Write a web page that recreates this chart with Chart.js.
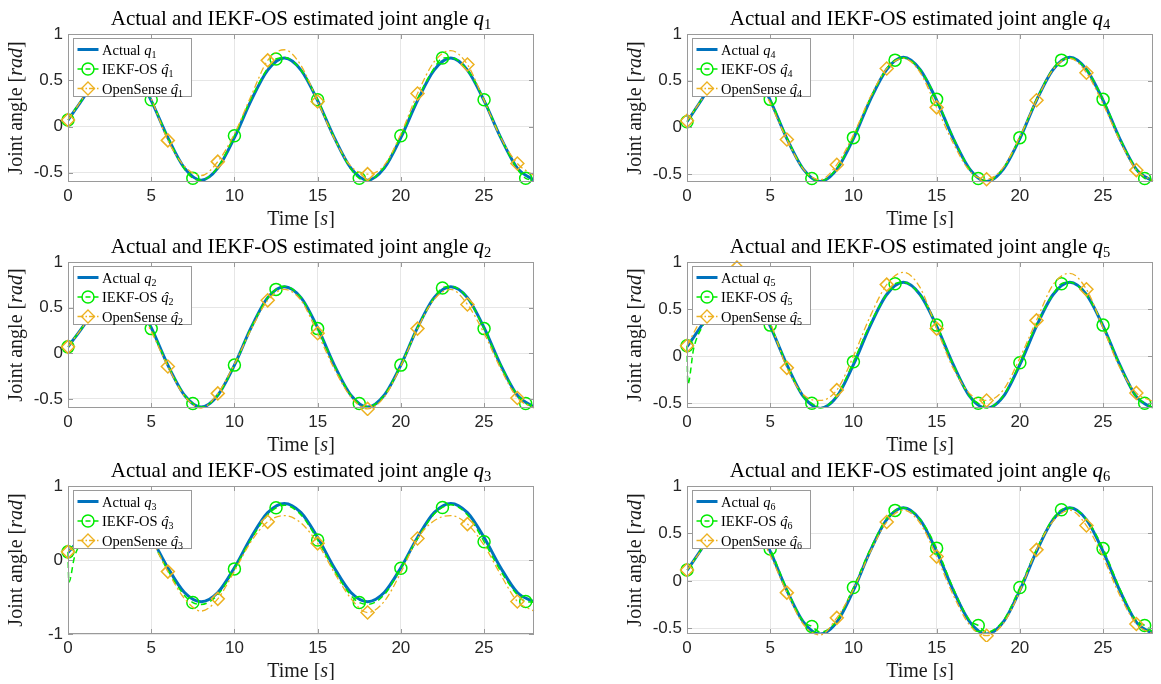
<!DOCTYPE html>
<html>
<head>
<meta charset="utf-8">
<script src="https://cdn.jsdelivr.net/npm/chart.js@4/dist/chart.umd.min.js"></script>
<style>
  body { margin: 0; background: #fff; width: 1161px; height: 684px; position: relative; overflow: hidden; }
  canvas { position: absolute; }
</style>
</head>
<body>
<script>
// time samples (s)
const timeA = [0,1,2,3,4,5,6,7,8,9,10,11,12,13,14,15,16,17,18,19,20,21,22,23,24,25,26,27,28];
const timeE = [0,0.05,0.4,1,2,2.5,3,4,5,6,7,7.5,8,9,10,11,12,12.5,13,14,15,16,17,17.5,18,19,20,21,22,22.5,23,24,25,26,27,27.5,28];

const xTicks = [0,5,10,15,20,25];
const yTicksStd = [-0.5,0,0.5,1];
const yTicksWide = [-1,0,1];

// joint angles (rad)
const actualQ1 = [0.07,0.33,0.63,0.74,0.61,0.28,-0.12,-0.45,-0.58,-0.45,-0.12,0.28,0.61,0.74,0.61,0.28,-0.12,-0.45,-0.58,-0.45,-0.12,0.28,0.61,0.74,0.61,0.28,-0.12,-0.45,-0.58];
const iekfQ1 = [0.07,0.085,0.18,0.33,0.63,0.72,0.745,0.61,0.29,-0.12,-0.46,-0.56,-0.58,-0.44,-0.10,0.30,0.63,0.73,0.745,0.61,0.29,-0.12,-0.46,-0.56,-0.58,-0.44,-0.10,0.30,0.63,0.74,0.745,0.61,0.29,-0.12,-0.46,-0.56,-0.58];
const openSenseQ1 = [0.07,0.34,0.66,0.80,0.66,0.30,-0.15,-0.43,-0.53,-0.38,-0.08,0.33,0.715,0.83,0.66,0.27,-0.13,-0.43,-0.515,-0.42,-0.08,0.356,0.70,0.82,0.67,0.28,-0.12,-0.40,-0.53];

const actualQ2 = [0.07,0.32,0.62,0.73,0.61,0.28,-0.13,-0.46,-0.59,-0.46,-0.13,0.28,0.61,0.73,0.61,0.28,-0.13,-0.46,-0.59,-0.46,-0.13,0.28,0.61,0.73,0.61,0.28,-0.13,-0.46,-0.59];
const iekfQ2 = [0.07,0.085,0.17,0.32,0.62,0.71,0.735,0.61,0.27,-0.13,-0.46,-0.55,-0.59,-0.46,-0.13,0.28,0.61,0.70,0.735,0.61,0.27,-0.13,-0.46,-0.55,-0.59,-0.46,-0.13,0.28,0.61,0.715,0.735,0.61,0.27,-0.13,-0.46,-0.55,-0.59];
const openSenseQ2 = [0.07,0.32,0.60,0.71,0.57,0.24,-0.145,-0.47,-0.60,-0.44,-0.12,0.26,0.58,0.70,0.58,0.22,-0.17,-0.48,-0.61,-0.48,-0.14,0.27,0.59,0.70,0.535,0.22,-0.17,-0.49,-0.60];

const actualQ3 = [0.10,0.36,0.66,0.765,0.64,0.305,-0.105,-0.44,-0.565,-0.44,-0.105,0.305,0.64,0.765,0.64,0.305,-0.105,-0.44,-0.565,-0.44,-0.105,0.305,0.64,0.765,0.64,0.305,-0.105,-0.44,-0.565];
const iekfQ3 = [0.11,-0.30,0.05,0.30,0.60,0.70,0.74,0.61,0.27,-0.14,-0.48,-0.575,-0.60,-0.47,-0.12,0.28,0.61,0.705,0.74,0.61,0.27,-0.14,-0.48,-0.575,-0.60,-0.47,-0.112,0.29,0.62,0.71,0.745,0.61,0.247,-0.15,-0.47,-0.56,-0.57];
const openSenseQ3 = [0.11,0.33,0.52,0.60,0.50,0.27,-0.157,-0.52,-0.69,-0.525,-0.15,0.25,0.516,0.60,0.50,0.225,-0.17,-0.52,-0.71,-0.56,-0.17,0.29,0.53,0.60,0.485,0.20,-0.20,-0.56,-0.69];

const actualQ4 = [0.06,0.33,0.63,0.75,0.62,0.29,-0.12,-0.45,-0.58,-0.45,-0.12,0.29,0.62,0.75,0.62,0.29,-0.12,-0.45,-0.58,-0.45,-0.12,0.29,0.62,0.75,0.62,0.29,-0.12,-0.45,-0.58];
const iekfQ4 = [0.06,0.075,0.17,0.33,0.63,0.72,0.75,0.62,0.30,-0.11,-0.45,-0.547,-0.575,-0.44,-0.11,0.30,0.63,0.72,0.745,0.62,0.30,-0.11,-0.45,-0.547,-0.575,-0.44,-0.11,0.30,0.63,0.72,0.745,0.62,0.30,-0.11,-0.45,-0.547,-0.575];
const openSenseQ4 = [0.07,0.33,0.62,0.74,0.60,0.26,-0.13,-0.45,-0.56,-0.40,-0.08,0.32,0.63,0.74,0.59,0.214,-0.17,-0.47,-0.555,-0.43,-0.10,0.29,0.62,0.74,0.585,0.25,-0.14,-0.458,-0.57];

const actualQ5 = [0.10,0.36,0.67,0.785,0.655,0.32,-0.09,-0.43,-0.555,-0.43,-0.09,0.32,0.655,0.785,0.655,0.32,-0.09,-0.43,-0.555,-0.43,-0.09,0.32,0.655,0.785,0.655,0.32,-0.09,-0.43,-0.555];
const iekfQ5 = [0.11,-0.30,0.08,0.34,0.66,0.75,0.78,0.65,0.33,-0.09,-0.43,-0.50,-0.55,-0.42,-0.06,0.34,0.66,0.77,0.785,0.65,0.33,-0.09,-0.43,-0.50,-0.55,-0.42,-0.07,0.34,0.66,0.77,0.785,0.65,0.33,-0.09,-0.43,-0.50,-0.55];
const openSenseQ5 = [0.11,0.45,0.80,0.94,0.75,0.36,-0.124,-0.41,-0.47,-0.36,0.00,0.42,0.76,0.89,0.73,0.293,-0.13,-0.40,-0.47,-0.36,-0.02,0.38,0.76,0.88,0.71,0.30,-0.12,-0.39,-0.48];

const actualQ6 = [0.11,0.37,0.66,0.77,0.645,0.31,-0.10,-0.435,-0.56,-0.435,-0.10,0.31,0.645,0.77,0.645,0.31,-0.10,-0.435,-0.56,-0.435,-0.10,0.31,0.645,0.77,0.645,0.31,-0.10,-0.435,-0.56];
const iekfQ6 = [0.114,0.125,0.21,0.37,0.66,0.74,0.77,0.65,0.335,-0.09,-0.43,-0.48,-0.54,-0.42,-0.07,0.33,0.66,0.743,0.77,0.65,0.345,-0.08,-0.42,-0.47,-0.54,-0.42,-0.07,0.33,0.66,0.75,0.77,0.65,0.34,-0.08,-0.42,-0.47,-0.54];
const openSenseQ6 = [0.114,0.36,0.63,0.74,0.60,0.27,-0.124,-0.46,-0.57,-0.39,-0.09,0.30,0.62,0.745,0.61,0.256,-0.15,-0.47,-0.578,-0.45,-0.11,0.327,0.63,0.745,0.583,0.25,-0.15,-0.455,-0.56];

const BLUE = '#0072BD';
const GREEN = 'rgb(0,235,0)';
const ORANGE = '#EDB120';
const GRID = '#e6e6e6';
const EDGE = '#9a9a9a';
const SERIF = '"Liberation Serif", "Times New Roman", serif';
const SANS = '"Liberation Sans", Arial, Helvetica, sans-serif';
const f = (size, italic) => (italic ? 'italic ' : '') + size + 'px ' + SERIF;

const CANVAS_W = 542, CANVAS_H = 228, PAD_TOP = 34;

const panels = [
  { joint: 1, actual: actualQ1, iekf: iekfQ1, os: openSenseQ1, yMin: -0.6,   yTicks: yTicksStd,  left: 0,   top: 0,   areaH: 148 },
  { joint: 4, actual: actualQ4, iekf: iekfQ4, os: openSenseQ4, yMin: -0.585, yTicks: yTicksStd,  left: 619, top: 0,   areaH: 148 },
  { joint: 2, actual: actualQ2, iekf: iekfQ2, os: openSenseQ2, yMin: -0.6,   yTicks: yTicksStd,  left: 0,   top: 228, areaH: 146 },
  { joint: 5, actual: actualQ5, iekf: iekfQ5, os: openSenseQ5, yMin: -0.55,  yTicks: yTicksStd,  left: 619, top: 228, areaH: 146 },
  { joint: 3, actual: actualQ3, iekf: iekfQ3, os: openSenseQ3, yMin: -1,     yTicks: yTicksWide, left: 0,   top: 452, areaH: 148 },
  { joint: 6, actual: actualQ6, iekf: iekfQ6, os: openSenseQ6, yMin: -0.56,  yTicks: yTicksStd,  left: 619, top: 452, areaH: 148 },
];

const pts = (times, vals) => times.map((t, i) => ({ x: t, y: vals[i] }));

// draw a row of text pieces starting at x on baseline y
function runsWidth(ctx, runs) {
  let w = 0;
  runs.forEach(r => { ctx.font = r.font; w += ctx.measureText(r.text).width; });
  return w;
}
function drawRuns(ctx, runs, x, y) {
  runs.forEach(r => {
    ctx.font = r.font;
    ctx.textAlign = 'left';
    ctx.fillText(r.text, x, y + (r.dy || 0));
    const w = ctx.measureText(r.text).width;
    if (r.hat) {
      ctx.textAlign = 'center';
      ctx.fillText('\u02C6', x + w / 2 + 1, y);
      ctx.textAlign = 'left';
    }
    x += w;
  });
}

const decor = {
  id: 'decor',
  afterDraw(chart) {
    const { ctx, chartArea: a } = chart;
    const j = chart.options.plugins.decor.joint;
    const xs = chart.scales.x, ys = chart.scales.y;
    ctx.save();

    // axes box with inward ticks
    ctx.strokeStyle = EDGE;
    ctx.lineWidth = 1;
    ctx.strokeRect(a.left + 0.5, a.top + 0.5, a.right - a.left - 1, a.bottom - a.top - 1);
    ctx.beginPath();
    xs.ticks.forEach(t => {
      const px = Math.round(xs.getPixelForValue(t.value)) + 0.5;
      ctx.moveTo(px, a.bottom); ctx.lineTo(px, a.bottom - 5);
      ctx.moveTo(px, a.top); ctx.lineTo(px, a.top + 5);
    });
    ys.ticks.forEach(t => {
      const py = Math.round(ys.getPixelForValue(t.value)) + 0.5;
      ctx.moveTo(a.left, py); ctx.lineTo(a.left + 5, py);
      ctx.moveTo(a.right, py); ctx.lineTo(a.right - 5, py);
    });
    ctx.stroke();

    // legend
    const lx = a.left + 5.5, ly = a.top + 4.5, lw = 118, lh = 58;
    ctx.fillStyle = '#fff';
    ctx.fillRect(lx, ly, lw, lh);
    ctx.strokeStyle = EDGE;
    ctx.strokeRect(lx, ly, lw, lh);
    const sub = String(j);
    const rows = [
      { color: BLUE, width: 3, dash: [], marker: null,
        runs: [{ text: 'Actual ', font: f(14.5) }, { text: 'q', font: f(14.5, true) }, { text: sub, font: f(10), dy: 3 }] },
      { color: GREEN, width: 1.5, dash: [5, 3], marker: 'circle',
        runs: [{ text: 'IEKF-OS ', font: f(14.5) }, { text: 'q', font: f(14.5, true), hat: true }, { text: sub, font: f(10), dy: 3 }] },
      { color: ORANGE, width: 1.3, dash: [6, 2, 1.5, 2], marker: 'diamond',
        runs: [{ text: 'OpenSense ', font: f(14.5) }, { text: 'q', font: f(14.5, true), hat: true }, { text: sub, font: f(10), dy: 3 }] },
    ];
    rows.forEach((r, i) => {
      const cy = ly + 11 + i * 19.5;
      ctx.strokeStyle = r.color;
      ctx.lineWidth = r.width;
      ctx.setLineDash(r.dash);
      ctx.beginPath(); ctx.moveTo(lx + 4, cy); ctx.lineTo(lx + 25, cy); ctx.stroke();
      ctx.setLineDash([]);
      const mx = lx + 14.5;
      if (r.marker === 'circle') {
        ctx.beginPath(); ctx.arc(mx, cy, 6, 0, Math.PI * 2); ctx.stroke();
      } else if (r.marker === 'diamond') {
        ctx.beginPath(); ctx.moveTo(mx, cy - 6.5); ctx.lineTo(mx + 6.5, cy); ctx.lineTo(mx, cy + 6.5); ctx.lineTo(mx - 6.5, cy); ctx.closePath(); ctx.stroke();
      }
      ctx.fillStyle = '#000';
      drawRuns(ctx, r.runs, lx + 28.5, cy + 5);
    });

    // title
    ctx.fillStyle = '#000';
    const title = [{ text: 'Actual and IEKF-OS estimated joint angle ', font: f(21) }, { text: 'q', font: f(21, true) }, { text: sub, font: f(14.5), dy: 4 }];
    const cx = (a.left + a.right) / 2;
    drawRuns(ctx, title, cx - runsWidth(ctx, title) / 2, a.top - 9.5);

    // x label
    ctx.fillStyle = '#1a1a1a';
    const xl = [{ text: 'Time [', font: f(20) }, { text: 's', font: f(20, true) }, { text: ']', font: f(20) }];
    drawRuns(ctx, xl, cx - runsWidth(ctx, xl) / 2, a.bottom + 42.5);

    // y label
    const yl = [{ text: 'Joint angle [', font: f(20) }, { text: 'rad', font: f(20, true) }, { text: ']', font: f(20) }];
    ctx.translate(a.left - 46, (a.top + a.bottom) / 2);
    ctx.rotate(-Math.PI / 2);
    drawRuns(ctx, yl, -runsWidth(ctx, yl) / 2, 0);
    ctx.restore();
  }
};

panels.forEach(p => {
  const canvas = document.createElement('canvas');
  canvas.width = CANVAS_W;
  canvas.height = CANVAS_H;
  canvas.style.left = p.left + 'px';
  canvas.style.top = p.top + 'px';
  document.body.appendChild(canvas);

  const tickFont = { family: SANS, size: 17 };
  new Chart(canvas.getContext('2d'), {
    type: 'line',
    data: {
      datasets: [
        {
          data: pts(timeA, p.os),
          borderColor: ORANGE, borderWidth: 1.3, borderDash: [7, 3, 2, 3],
          cubicInterpolationMode: 'monotone',
          pointStyle: 'rectRot',
          pointRadius: c => (c.raw && c.raw.x % 3 === 0 ? 6.5 : 0),
          pointBorderColor: ORANGE, pointBorderWidth: 1.5, pointBackgroundColor: 'rgba(0,0,0,0)',
          clip: 8,
        },
        {
          data: pts(timeE, p.iekf),
          borderColor: GREEN, borderWidth: 1.5, borderDash: [6, 4],
          cubicInterpolationMode: 'monotone',
          pointStyle: 'circle',
          pointRadius: c => (c.raw && c.raw.x % 2.5 === 0 ? 6 : 0),
          pointBorderColor: GREEN, pointBorderWidth: 1.5, pointBackgroundColor: 'rgba(0,0,0,0)',
          clip: 8,
        },
        {
          data: pts(timeA, p.actual),
          borderColor: BLUE, borderWidth: 3,
          cubicInterpolationMode: 'monotone',
          pointRadius: 0,
        },
      ],
    },
    options: {
      responsive: false,
      animation: false,
      events: [],
      devicePixelRatio: 1,
      layout: { padding: { top: PAD_TOP, left: 0, right: 4, bottom: 0 } },
      scales: {
        x: {
          type: 'linear', min: 0, max: 28,
          afterBuildTicks: s => { s.ticks = xTicks.map(v => ({ value: v })); },
          afterFit: s => { s.height = CANVAS_H - PAD_TOP - p.areaH; },
          grid: { color: GRID, drawTicks: false },
          border: { display: false },
          ticks: { font: tickFont, color: '#262626', padding: 4, maxRotation: 0, autoSkip: false, callback: v => String(v) },
        },
        y: {
          type: 'linear', min: p.yMin, max: 1,
          afterBuildTicks: s => { s.ticks = p.yTicks.map(v => ({ value: v })); },
          afterFit: s => { s.width = 68; },
          grid: { color: GRID, drawTicks: false },
          border: { display: false },
          ticks: { font: tickFont, color: '#262626', padding: 5, autoSkip: false, callback: v => String(v) },
        },
      },
      plugins: {
        legend: { display: false },
        tooltip: { enabled: false },
        decor: { joint: p.joint },
      },
    },
    plugins: [decor],
  });
});
</script>
</body>
</html>
